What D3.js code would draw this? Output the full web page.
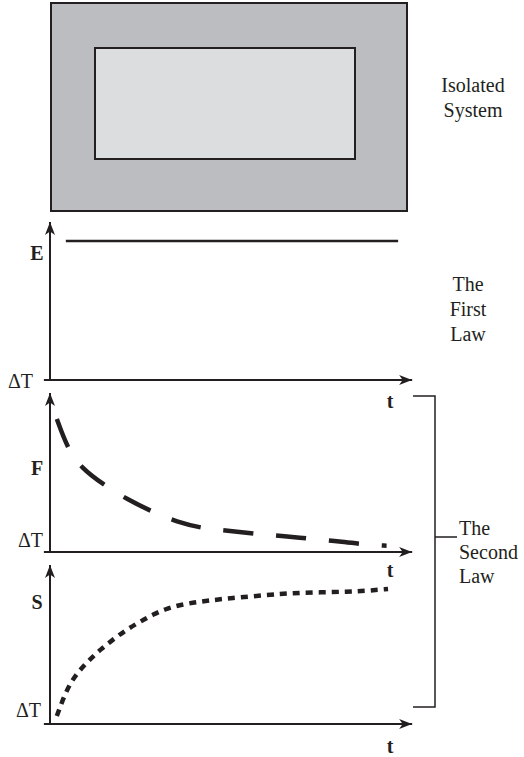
<!DOCTYPE html>
<html>
<head>
<meta charset="utf-8">
<script src="https://cdn.jsdelivr.net/npm/d3@7"></script>
<style>
  body { margin: 0; background: #fff; }
  text { font-family: "Liberation Serif", "DejaVu Serif", serif; fill: #231f20; }
</style>
</head>
<body>
<div id="chart"></div>
<script>
// time axis runs 0..100, each quantity 0..100 (arbitrary units)
const tEnergy = [4.4, 96.7];
const energy = [88, 88];

const tFree = [1.9, 4.8, 8.5, 15.3, 21.3, 28.7, 35, 43.1, 49.7, 58.3, 64.8, 73.3, 80.1, 88.4, 93.5];
const freeEnergy = [83.6, 65.6, 53, 41.7, 33.3, 25, 19.1, 14.5, 13.4, 11.1, 10.1, 8, 6.9, 4.4, 4];

const tEntropy = [1.9, 3.7, 5.6, 7.9, 10.9, 14.1, 17.6, 21.1, 24.8, 28.7, 32.6, 37, 41.5, 45.6, 49.8, 60.3, 67.5, 75, 82.5, 88.1, 93.9];
const entropy = [5, 16.2, 25.6, 32.9, 40.3, 47, 53.3, 59.1, 64, 69, 72.8, 75.3, 76.9, 78, 79.1, 81.1, 82.4, 82.8, 83.2, 83.8, 84.9];

const yLabels = ["E", "F", "S"];
const originLabel = "ΔT";
const xLabel = "t";
const systemLabel = ["Isolated", "System"];
const firstLawLabel = ["The", "First", "Law"];
const secondLawLabel = ["The", "Second", "Law"];

const W = 524, H = 757;
const INK = "#231f20";

const svg = d3.select("#chart").append("svg")
  .attr("width", W)
  .attr("height", H);

svg.append("defs").append("marker")
  .attr("id", "arrow")
  .attr("viewBox", "0 0 13 10")
  .attr("refX", 13)
  .attr("refY", 5)
  .attr("markerWidth", 13)
  .attr("markerHeight", 10)
  .attr("markerUnits", "userSpaceOnUse")
  .attr("orient", "auto")
  .append("path")
  .attr("d", "M0,0 L13,5 L0,10 L3.5,5 Z")
  .attr("fill", INK);

// isolated system sketch
svg.append("rect")
  .attr("x", 51).attr("y", 3).attr("width", 356).attr("height", 208)
  .attr("fill", "#bcbdc0").attr("stroke", INK).attr("stroke-width", 2);
svg.append("rect")
  .attr("x", 95).attr("y", 48).attr("width", 260).attr("height", 111)
  .attr("fill", "#dcdddf").attr("stroke", INK).attr("stroke-width", 2);

svg.append("g")
  .selectAll("text")
  .data(systemLabel)
  .enter()
  .append("text")
  .attr("x", 473)
  .attr("y", (d, i) => 92 + i * 25)
  .attr("text-anchor", "middle")
  .attr("font-size", "20px")
  .text(d => d);

const x = d3.scaleLinear().domain([0, 100]).range([50, 410]);

const panels = [
  { label: yLabels[0], bottom: 380, top: 222, labelY: 260, originX: 33, originY: 388, tY: 408,
    t: tEnergy, v: energy, dash: null, width: 2.6 },
  { label: yLabels[1], bottom: 552, top: 393, labelY: 475, originX: 43, originY: 547, tY: 577,
    t: tFree, v: freeEnergy, dash: "30,23", width: 4.5 },
  { label: yLabels[2], bottom: 724, top: 565, labelY: 609, originX: 41, originY: 717, tY: 753,
    t: tEntropy, v: entropy, dash: "7,6", width: 4.5 },
];

panels.forEach(function(p) {
  const y = d3.scaleLinear().domain([0, 100]).range([p.bottom, p.top]);
  const g = svg.append("g");

  // axes
  g.append("line")
    .attr("x1", x(0)).attr("x2", x(0))
    .attr("y1", y(0)).attr("y2", y(100))
    .attr("stroke", INK).attr("stroke-width", 2)
    .attr("marker-end", "url(#arrow)");
  g.append("line")
    .attr("x1", x(-1.7)).attr("x2", x(100.6))
    .attr("y1", y(0)).attr("y2", y(0))
    .attr("stroke", INK).attr("stroke-width", 2)
    .attr("marker-end", "url(#arrow)");

  const pts = p.t.map((t, i) => [t, p.v[i]]);
  const line = d3.line()
    .x(d => x(d[0]))
    .y(d => y(d[1]))
    .curve(d3.curveBasis);

  g.append("path")
    .datum(pts)
    .attr("d", line)
    .attr("fill", "none")
    .attr("stroke", INK)
    .attr("stroke-width", p.width)
    .attr("stroke-dasharray", p.dash);

  g.append("text")
    .attr("x", 37).attr("y", p.labelY)
    .attr("text-anchor", "middle")
    .attr("font-size", "20px")
    .attr("font-weight", "bold")
    .text(p.label);
  g.append("text")
    .attr("x", p.originX).attr("y", p.originY)
    .attr("text-anchor", "end")
    .attr("font-size", "20px")
    .text(originLabel);
  g.append("text")
    .attr("x", 390).attr("y", p.tY)
    .attr("text-anchor", "middle")
    .attr("font-size", "20px")
    .attr("font-weight", "bold")
    .text(xLabel);
});

// law annotations
svg.append("g")
  .selectAll("text")
  .data(firstLawLabel)
  .enter()
  .append("text")
  .attr("x", 468)
  .attr("y", (d, i) => 291 + i * 25)
  .attr("text-anchor", "middle")
  .attr("font-size", "20px")
  .text(d => d);

svg.append("path")
  .attr("d", "M413,396 H435 V707 H413 M435,537 H457")
  .attr("fill", "none")
  .attr("stroke", INK)
  .attr("stroke-width", 1.5);

svg.append("g")
  .selectAll("text")
  .data(secondLawLabel)
  .enter()
  .append("text")
  .attr("x", 459)
  .attr("y", (d, i) => 535 + i * 24)
  .attr("font-size", "20px")
  .text(d => d);
</script>
</body>
</html>
